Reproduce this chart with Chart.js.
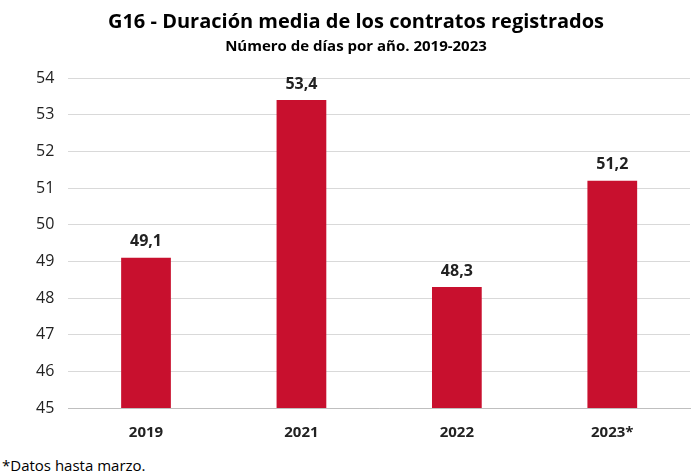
<!DOCTYPE html>
<html>
<head>
<meta charset="utf-8">
<script src="https://cdn.jsdelivr.net/npm/chart.js@4/dist/chart.umd.min.js"></script>
<style>
  body { margin: 0; background: #fff; }
  #wrap { position: relative; width: 700px; height: 476px; }
  #note { position: absolute; left: 2px; top: 455px; font: 15px "Open Sans", sans-serif; color: #000; }
</style>
</head>
<body>
<div id="wrap">
  <canvas id="out" width="700" height="450"></canvas>
  <div id="note">*Datos hasta marzo.</div>
</div>
<script>
const years = ["2019", "2021", "2022", "2023*"];
const days = [49.1, 53.4, 48.3, 51.2];

// writes the value above each bar
const barLabels = {
  id: "barLabels",
  afterDatasetsDraw(chart) {
    const ctx = chart.ctx;
    const meta = chart.getDatasetMeta(0);
    ctx.save();
    ctx.font = "bold 16px 'Open Sans', sans-serif";
    ctx.fillStyle = "#222";
    ctx.textAlign = "center";
    ctx.textBaseline = "bottom";
    meta.data.forEach((bar, i) => {
      ctx.fillText(days[i].toFixed(1).replace(".", ","), bar.x, bar.y - 8);
    });
    ctx.restore();
  }
};

const canvasCtx = document.getElementById("out").getContext("2d");
new Chart(canvasCtx, {
  type: "bar",
  data: {
    labels: years,
    datasets: [{
      data: days,
      backgroundColor: "#C8102E",
      barPercentage: 0.32,
      categoryPercentage: 1
    }]
  },
  options: {
    responsive: false,
    animation: false,
    layout: { padding: { left: 22, right: 10, top: 0 } },
    plugins: {
      legend: { display: false },
      tooltip: { enabled: false },
      title: {
        display: true,
        text: "G16 - Duración media de los contratos registrados",
        color: "#000",
        font: { family: "'Open Sans', sans-serif", size: 20, weight: "bold" },
        padding: { top: 10, bottom: 4 }
      },
      subtitle: {
        display: true,
        text: "Número de días por año. 2019-2023",
        color: "#000",
        font: { family: "'Open Sans', sans-serif", size: 15, weight: "bold" },
        padding: { bottom: 22 }
      }
    },
    scales: {
      y: {
        min: 45,
        max: 54,
        ticks: { stepSize: 1, color: "#222", padding: 14, font: { family: "'Open Sans', sans-serif", size: 16 } },
        grid: { color: "#d9d9d9", drawTicks: false },
        border: { display: false }
      },
      x: {
        ticks: { color: "#222", padding: 8, font: { family: "'Open Sans', sans-serif", size: 15, weight: "bold" } },
        grid: { display: false },
        border: { color: "#bfbfbf" }
      }
    }
  },
  plugins: [barLabels]
});
</script>
</body>
</html>
